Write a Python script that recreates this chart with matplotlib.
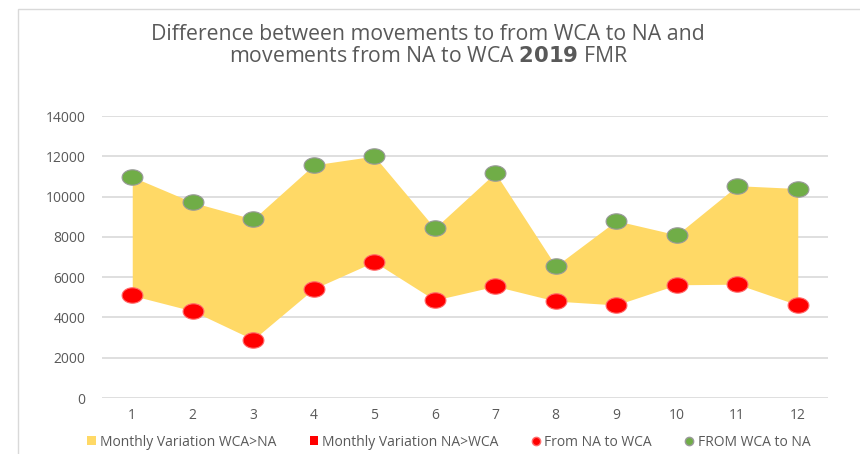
import matplotlib
matplotlib.use("Agg")
import matplotlib.pyplot as plt
import numpy as np
from matplotlib.path import Path
from matplotlib.patches import Rectangle
from matplotlib.lines import Line2D
from matplotlib.patches import Patch

months = [1, 2, 3, 4, 5, 6, 7, 8, 9, 10, 11, 12]
from_wca_to_na = [10980, 9710, 8880, 11570, 12010, 8430, 11180, 6550, 8800, 8100, 10540, 10400]
from_na_to_wca = [5090, 4320, 2900, 5420, 6760, 4860, 5550, 4810, 4620, 5620, 5650, 4620]
yticks = [0, 2000, 4000, 6000, 8000, 10000, 12000, 14000]

plt.rcParams['font.family'] = ['Open Sans', 'DejaVu Sans']
grey = '#595959'

fig = plt.figure(figsize=(8.6, 4.54), dpi=100)
fig.patches.append(Rectangle((18/860, -0.1), 1.0, 1 - 9/454 + 0.1, transform=fig.transFigure,
                             fill=False, edgecolor='#d9d9d9', linewidth=1.0))
ax = fig.add_axes([102/860, 1 - 398/454, 726/860, 282/454])

x = np.array(months)
hi = np.array(from_wca_to_na)
lo = np.array(from_na_to_wca)
ax.fill_between(x, lo, hi, where=hi >= lo, color='#FFD966', linewidth=0, zorder=2)
ax.fill_between(x, lo, hi, where=hi < lo, color='#FF0000', linewidth=0, zorder=2)

t = np.linspace(0, 2 * np.pi, 60)
ell = Path(np.column_stack([1.35 * np.cos(t), np.sin(t)]), closed=True)

ax.plot(x, lo, linestyle='none', marker=ell, markersize=15, markerfacecolor='#FF0000',
        markeredgecolor='#ff6b6b', markeredgewidth=0.8, zorder=4)
ax.plot(x, hi, linestyle='none', marker=ell, markersize=15, markerfacecolor='#70AD47',
        markeredgecolor='#9a9a9a', markeredgewidth=0.8, zorder=4)

ax.set_xlim(0.5, 12.5)
ax.set_ylim(0, 14000)
ax.set_xticks(months)
ax.set_xticklabels([str(m) for m in months])
ax.set_yticks(yticks)
ax.set_yticklabels([str(v) for v in yticks])
ax.grid(axis='y', color='#d9d9d9', linewidth=1.2, zorder=0)
ax.set_axisbelow(True)
for s in ax.spines.values():
    s.set_visible(False)
ax.tick_params(axis='both', length=0, colors=grey, labelsize=10)
ax.tick_params(axis='y', pad=12)
ax.tick_params(axis='x', pad=7)

fig.text(0.498, 1 - 34/454, 'Difference between movements to from WCA to NA and',
         ha='center', va='center', fontsize=15.3, color=grey)
fig.text(0.498, 1 - 57/454, 'movements from NA to WCA $\\bf{2019}$ FMR',
         ha='center', va='center', fontsize=15.3, color=grey)

handles = [
    Patch(facecolor='#FFD966', edgecolor='none'),
    Patch(facecolor='#FF0000', edgecolor='none'),
    Line2D([], [], linestyle='none', marker='o', markersize=6, markerfacecolor='#FF0000', markeredgecolor='#ff6b6b'),
    Line2D([], [], linestyle='none', marker='o', markersize=6, markerfacecolor='#70AD47', markeredgecolor='#9a9a9a'),
]
labels = ['Monthly Variation WCA>NA', 'Monthly Variation NA>WCA', 'From NA to WCA', 'FROM WCA to NA']
leg = fig.legend(handles, labels, loc='center', bbox_to_anchor=(0.522, 1 - 442/454), ncol=4,
                 frameon=False, fontsize=10, handlelength=0.6, handleheight=0.6, handletextpad=0.3,
                 columnspacing=2.4, labelcolor=grey)

fig.savefig('out.png', dpi=100)
